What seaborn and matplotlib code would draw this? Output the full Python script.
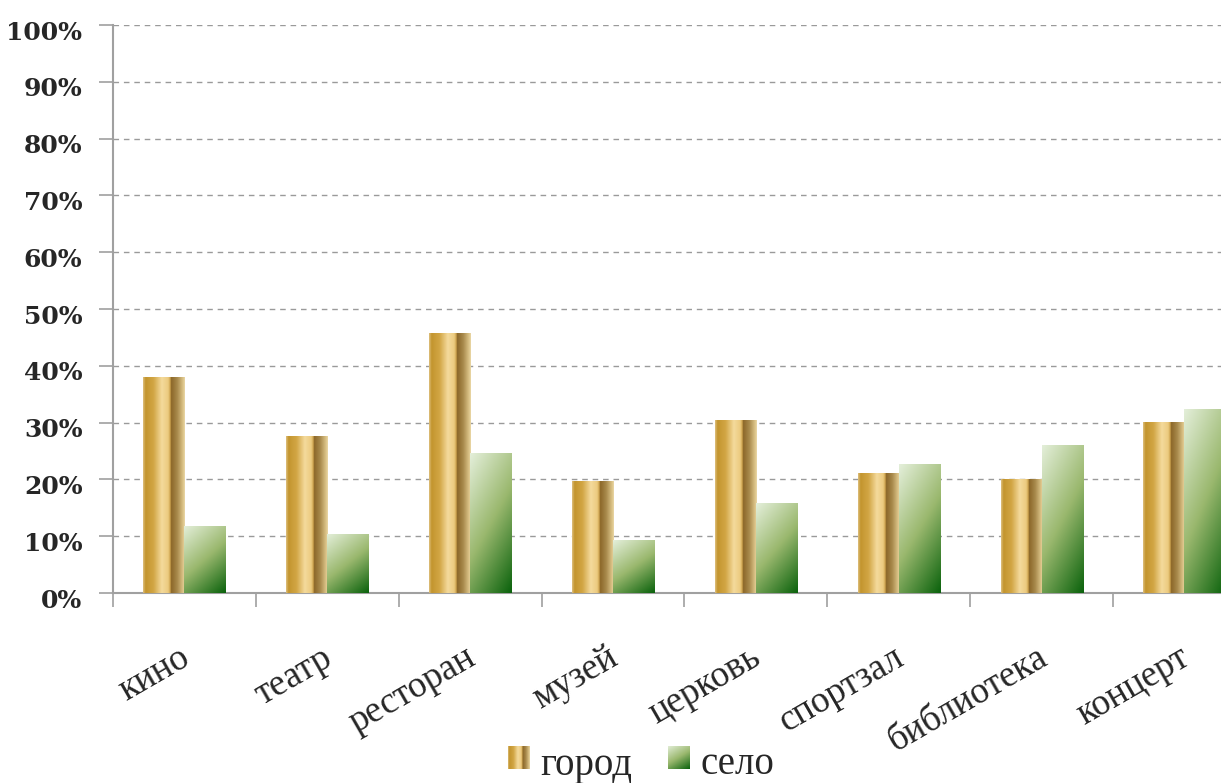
"""Leisure places: city vs village, gradient bar chart."""

import matplotlib.pyplot as plt
import matplotlib.transforms as mtransforms
import numpy as np
import pandas as pd
import seaborn as sns
from matplotlib.colors import LinearSegmentedColormap
from matplotlib.patches import Patch

categories = ["кино", "театр", "ресторан", "музей", "церковь", "спортзал", "библиотека", "концерт"]
gorod = [38.0, 27.6, 45.8, 19.7, 30.5, 21.1, 20.1, 30.1]
selo = [11.8, 10.4, 24.6, 9.3, 15.8, 22.7, 26.1, 32.4]
series = ["город", "село"]
y_ticks = list(range(0, 101, 10))

GOLD_STOPS = [
    (0.00, "#ddbf7c"),
    (0.06, "#c3952e"),
    (0.25, "#d2a645"),
    (0.45, "#f4da9c"),
    (0.60, "#eccb80"),
    (0.655, "#caa04a"),
    (0.67, "#8a6628"),
    (0.82, "#a98a4c"),
    (0.96, "#dcc488"),
    (1.00, "#ead7a6"),
]
GREEN_STOPS = [(0.0, "#e4efda"), (0.5, "#9ab86e"), (1.0, "#0a620c")]

gold_cmap = LinearSegmentedColormap.from_list("gold", GOLD_STOPS)
green_cmap = LinearSegmentedColormap.from_list("green", GREEN_STOPS)


def gold_image():
    return gold_cmap(np.linspace(0, 1, 200))[None, :, :]


def green_image():
    u, v = np.meshgrid(np.linspace(0, 1, 80), np.linspace(0, 1, 240))
    return green_cmap(0.35 * u + 0.65 * v)


sns.set_style("white")
plt.rcParams["font.family"] = ["Liberation Serif", "DejaVu Serif"]

W, H = 1221, 783
fig = plt.figure(figsize=(W / 100, H / 100), dpi=100)
ax = fig.add_axes([113 / W, 1 - 593 / H, (W - 113) / W, 568 / H])

df = pd.DataFrame({
    "place": categories * 2,
    "group": [series[0]] * len(categories) + [series[1]] * len(categories),
    "value": gorod + selo,
})
sns.barplot(data=df, x="place", y="value", hue="group", palette=["#d8b060", "#8ab062"],
            width=0.575, gap=0, ax=ax, legend=False, saturation=1, errorbar=None)

# paint gradients over the seaborn bars
n = len(categories)
for i, bar in enumerate(ax.patches):
    x0, w, h = bar.get_x(), bar.get_width(), bar.get_height()
    img = gold_image() if i < n else green_image()
    im = ax.imshow(img, extent=[x0, x0 + w, 0, h], aspect="auto", zorder=3, interpolation="bilinear")
    im.set_clip_path(bar)
    bar.set_facecolor("none")
    bar.set_edgecolor("none")

ax.set_xlabel("")
ax.set_ylabel("")

ax.set_yticks(y_ticks)
ax.set_yticklabels([f"{v}%" for v in y_ticks], family="DejaVu Serif", fontsize=18, fontweight="bold")
ax.tick_params(axis="y", length=10, width=1.2, color="#a0a0a0", pad=12, left=True)
ax.yaxis.grid(True, linestyle=(0, (4, 3.5)), color="#9a9a9a", linewidth=1)
ax.xaxis.grid(False)
ax.set_axisbelow(True)

ax.set_xticks(range(n))
ax.set_xticklabels(categories, rotation=30, ha="right", rotation_mode="anchor", fontsize=26.5)
ax.set_xticks(np.arange(-0.5, n, 1), minor=True)
ax.tick_params(axis="x", which="major", length=0, pad=34)
ax.tick_params(axis="x", which="minor", length=10, width=1.2, color="#a0a0a0", bottom=True)

# limits last: set_xticks would widen them again
ax.set_xlim(-0.5, -0.5 + (W - 113) / 142.86)
ax.set_ylim(0, 100)

for side in ["top", "right"]:
    ax.spines[side].set_visible(False)
for side in ["left", "bottom"]:
    ax.spines[side].set_color("#a0a0a0")
    ax.spines[side].set_linewidth(1.5)

y_shift = mtransforms.ScaledTranslation(0, -5 / 100, fig.dpi_scale_trans)
for lab in ax.get_yticklabels():
    lab.set_transform(lab.get_transform() + y_shift)
x_shift = mtransforms.ScaledTranslation(-6 / 100, 0, fig.dpi_scale_trans)
for lab in ax.get_xticklabels():
    lab.set_transform(lab.get_transform() + x_shift)

leg = fig.legend(
    handles=[Patch(color="#d8b060"), Patch(color="#8ab062")],
    labels=series,
    loc="center",
    bbox_to_anchor=(641 / W, 1 - 765 / H),
    ncol=2,
    frameon=False,
    fontsize=28,
    handlelength=0.55,
    handleheight=0.55,
    handletextpad=0.3,
    columnspacing=0.9,
)

fig.canvas.draw()
for patch, img in zip(leg.get_patches(), [gold_image(), green_image()]):
    bb = patch.get_window_extent().transformed(fig.transFigure.inverted())
    sw = fig.add_axes([bb.x0, bb.y0 + 3 / H, bb.width, bb.height])
    sw.imshow(img, aspect="auto", interpolation="bilinear")
    sw.axis("off")
    patch.set_visible(False)

fig.savefig("out.png", dpi=100)
